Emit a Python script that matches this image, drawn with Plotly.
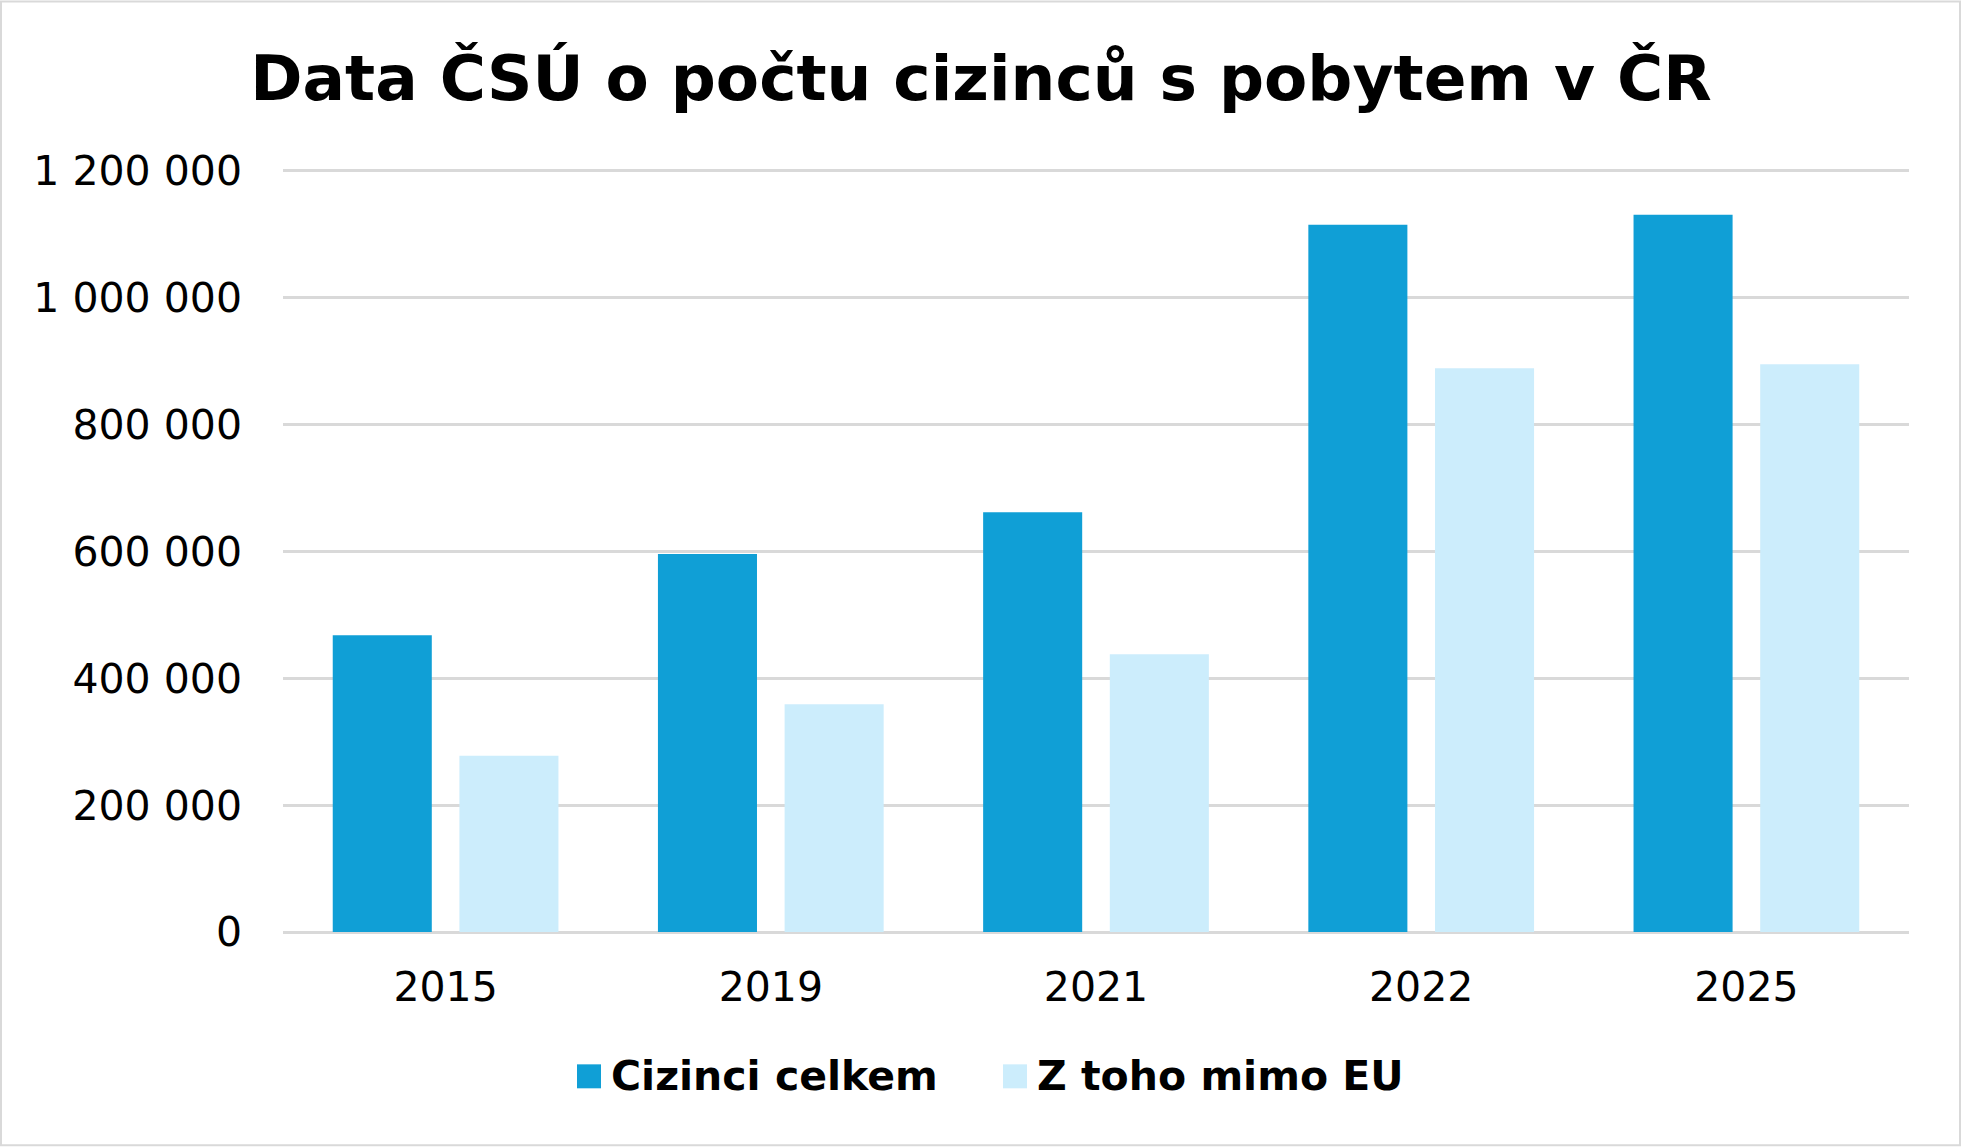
import plotly.graph_objects as go

# data
years = ["2015", "2019", "2021", "2022", "2025"]
cizinci_celkem = [468000, 596000, 662000, 1115000, 1131000]
mimo_eu = [278000, 359000, 438000, 889000, 895000]
y_ticks = [0, 200000, 400000, 600000, 800000, 1000000, 1200000]

DARK = "#109FD6"
LIGHT = "#CCEDFC"
GRID = "#D9D9D9"
FONT = "DejaVu Sans"

W, H = 1962, 1148
Y_TOP = 1203000  # a bit above 1.2M so the top gridline is drawn
# plot area in pixels (0 at 932.5, 635 px per million)
L, R, B = 283, 1909, 932.5
T = B - Y_TOP / 1e6 * 635


def px(x):
    return (x - L) / (R - L)


def py(y):
    return (B - y) / (B - T)


fig = go.Figure()
fig.add_trace(go.Bar(x=years, y=cizinci_celkem, name="Cizinci celkem",
                     marker=dict(color=DARK, line=dict(width=0)), showlegend=False))
fig.add_trace(go.Bar(x=years, y=mimo_eu, name="Z toho mimo EU",
                     marker=dict(color=LIGHT, line=dict(width=0)), showlegend=False))

# hand-made legend, plotly's own bar swatches are too small
legend_items = [("Cizinci celkem", DARK, 577, 609), ("Z toho mimo EU", LIGHT, 1003, 1035)]
shapes = [dict(type="rect", xref="paper", yref="paper",
               x0=px(1), x1=px(W - 2), y0=py(H - 2), y1=py(1),
               line=dict(color=GRID, width=2), layer="below")]
annotations = []
for label, color, sx, tx in legend_items:
    shapes.append(dict(type="rect", xref="paper", yref="paper",
                       x0=px(sx), x1=px(sx + 24), y0=py(1089), y1=py(1065),
                       fillcolor=color, line=dict(width=0)))
    annotations.append(dict(x=px(tx), y=py(1077), xref="paper", yref="paper",
                            text="<b>%s</b>" % label, showarrow=False,
                            xanchor="left", yanchor="middle",
                            font=dict(family=FONT, size=41, color="#000000")))

fig.update_layout(
    width=W, height=H,
    margin=dict(l=L, r=W - R, t=T, b=H - B, pad=0),
    paper_bgcolor="white", plot_bgcolor="white",
    separators=", ",
    barmode="group", bargap=0.221, bargroupgap=0.218,
    title=dict(text="<b>Data ČSÚ o počtu cizinců s pobytem v ČR</b>",
               x=0.5, xref="container", xanchor="center",
               y=1 - 78 / H, yref="container", yanchor="middle",
               font=dict(family=FONT, size=63, color="#000000")),
    font=dict(family=FONT, color="#000000"),
    shapes=shapes, annotations=annotations,
)
fig.update_xaxes(showgrid=False, showline=False, ticks="",
                 tickfont=dict(family=FONT, size=41, color="#000000"),
                 ticklabelstandoff=27)
fig.update_yaxes(range=[0, Y_TOP], tickvals=y_ticks, tickformat=",d",
                 showgrid=True, gridcolor=GRID, gridwidth=3,
                 zeroline=True, zerolinecolor=GRID, zerolinewidth=3,
                 showline=False, ticks="",
                 tickfont=dict(family=FONT, size=41, color="#000000"),
                 ticklabelstandoff=40)

# drop the default 8px page margin so the chart fills the window exactly
fig.write_html("out.html", config={"displayModeBar": False},
               post_script="document.body.style.margin='0';")
